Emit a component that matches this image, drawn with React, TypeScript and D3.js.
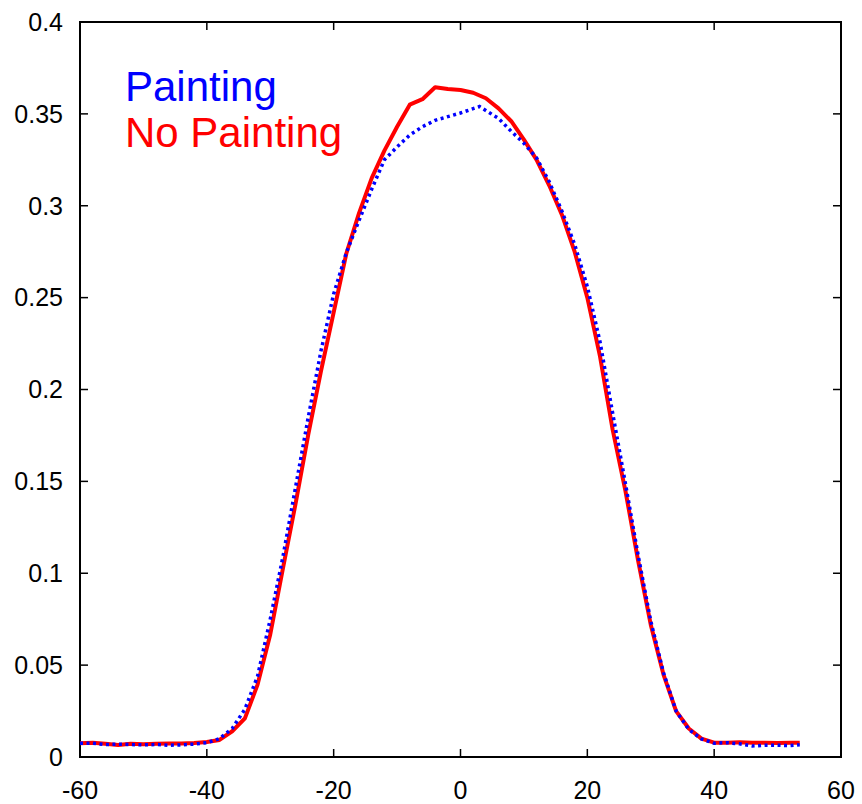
import React, { useEffect, useRef } from 'react';
import * as d3 from 'd3';

// x positions (angle) and values
const xsNoPainting = [-60, -58, -56, -54, -52, -50, -48, -46, -44, -42, -40, -38, -36, -34, -32, -30, -28, -26, -24, -22, -20, -18, -16, -14, -12, -10, -8, -6, -4, -2, 0, 2, 4, 6, 8, 10, 12, 14, 16, 18, 20, 22, 24, 26, 28, 30, 32, 34, 36, 38, 40, 42, 44, 46, 48, 50, 52, 53.5];
const noPainting = [0.0075, 0.0078, 0.0072, 0.0065, 0.0072, 0.007, 0.0072, 0.0074, 0.0073, 0.0076, 0.0082, 0.0093, 0.014, 0.021, 0.0394, 0.0667, 0.1026, 0.138, 0.1756, 0.21, 0.242, 0.274, 0.296, 0.315, 0.33, 0.343, 0.355, 0.358, 0.3645, 0.3635, 0.363, 0.3615, 0.3585, 0.353, 0.346, 0.336, 0.325, 0.311, 0.295, 0.275, 0.25, 0.218, 0.178, 0.145, 0.107, 0.072, 0.045, 0.025, 0.0155, 0.01, 0.0078, 0.0078, 0.008, 0.0078, 0.0078, 0.0076, 0.0077, 0.0078];

const xsPainting = [-60, -58, -56, -54, -52, -50, -48, -46, -44, -42, -40, -38, -36, -34, -32, -30, -28, -26, -24, -22, -20, -18, -16, -14, -12, -10, -8, -6, -4, -2, 0, 3, 6, 8, 10, 12, 14, 16, 18, 20, 22, 24, 26, 28, 30, 32, 34, 36, 38, 40, 42, 44, 46, 48, 50, 52, 53.5];
const painting = [0.0075, 0.0075, 0.0068, 0.007, 0.0068, 0.0066, 0.0068, 0.0064, 0.0066, 0.007, 0.0078, 0.01, 0.0155, 0.026, 0.044, 0.075, 0.109, 0.147, 0.185, 0.221, 0.252, 0.2745, 0.292, 0.309, 0.325, 0.332, 0.3385, 0.343, 0.3465, 0.3485, 0.3505, 0.354, 0.3475, 0.3405, 0.334, 0.326, 0.313, 0.297, 0.279, 0.256, 0.226, 0.187, 0.149, 0.11, 0.074, 0.046, 0.025, 0.015, 0.0098, 0.0075, 0.0078, 0.0072, 0.006, 0.0064, 0.0064, 0.0062, 0.0066];

const xTicks = [-60, -40, -20, 0, 20, 40, 60];
const yTicks = [0, 0.05, 0.1, 0.15, 0.2, 0.25, 0.3, 0.35, 0.4];
const legendLabels = ['Painting', 'No Painting'];

const width = 862;
const height = 804;
const margin = { top: 22, right: 21, bottom: 47, left: 80 };

const App = () => {
  const ref = useRef<SVGSVGElement>(null);

  useEffect(() => {
    const svg = d3.select(ref.current);
    svg.selectAll('*').remove();

    const x = d3.scaleLinear().domain([-60, 60]).range([margin.left, width - margin.right]);
    const y = d3.scaleLinear().domain([0, 0.4]).range([height - margin.bottom, margin.top]);
    const font = '"Liberation Sans", Arial, sans-serif';
    const tickLen = 8;

    const line = d3.line<[number, number]>()
      .x(d => x(d[0]))
      .y(d => y(d[1]));

    // frame
    svg.append('rect')
      .attr('x', x(-60)).attr('y', y(0.4))
      .attr('width', x(60) - x(-60)).attr('height', y(0) - y(0.4))
      .attr('fill', 'none').attr('stroke', '#000').attr('stroke-width', 2);

    // x ticks (mirrored top and bottom)
    const xt = svg.append('g');
    xTicks.forEach(t => {
      xt.append('line').attr('x1', x(t)).attr('x2', x(t))
        .attr('y1', y(0)).attr('y2', y(0) - tickLen)
        .attr('stroke', '#000').attr('stroke-width', 1.5);
      xt.append('line').attr('x1', x(t)).attr('x2', x(t))
        .attr('y1', y(0.4)).attr('y2', y(0.4) + tickLen)
        .attr('stroke', '#000').attr('stroke-width', 1.5);
      xt.append('text').text(t)
        .attr('x', x(t)).attr('y', y(0) + 42)
        .attr('text-anchor', 'middle')
        .attr('font-family', font).attr('font-size', 25).attr('fill', '#000');
    });

    // y ticks (mirrored left and right)
    const yt = svg.append('g');
    yTicks.forEach(t => {
      yt.append('line').attr('x1', x(-60)).attr('x2', x(-60) + tickLen)
        .attr('y1', y(t)).attr('y2', y(t))
        .attr('stroke', '#000').attr('stroke-width', 1.5);
      yt.append('line').attr('x1', x(60)).attr('x2', x(60) - tickLen)
        .attr('y1', y(t)).attr('y2', y(t))
        .attr('stroke', '#000').attr('stroke-width', 1.5);
      yt.append('text').text(t === 0 ? '0' : String(t))
        .attr('x', x(-60) - 17).attr('y', y(t))
        .attr('dy', '0.35em')
        .attr('text-anchor', 'end')
        .attr('font-family', font).attr('font-size', 25).attr('fill', '#000');
    });

    // No Painting: solid red
    svg.append('path')
      .datum(xsNoPainting.map((v, i) => [v, noPainting[i]] as [number, number]))
      .attr('d', line)
      .attr('fill', 'none').attr('stroke', '#ff0000')
      .attr('stroke-width', 4).attr('stroke-linejoin', 'round');

    // Painting: dotted blue
    svg.append('path')
      .datum(xsPainting.map((v, i) => [v, painting[i]] as [number, number]))
      .attr('d', line)
      .attr('fill', 'none').attr('stroke', '#0000ff')
      .attr('stroke-width', 3.5).attr('stroke-dasharray', '3,3.5');

    // legend
    const colors = ['#0000ff', '#ff0000'];
    legendLabels.forEach((l, i) => {
      svg.append('text').text(l)
        .attr('x', 125).attr('y', 101 + i * 46)
        .attr('font-family', font).attr('font-size', 42)
        .attr('fill', colors[i]);
    });
  }, []);

  return (
    <div style={{ position: 'absolute', left: 0, top: 0 }}>
      <svg ref={ref} width={width} height={height} style={{ display: 'block', background: '#fff' }} />
    </div>
  );
};

export default App;
